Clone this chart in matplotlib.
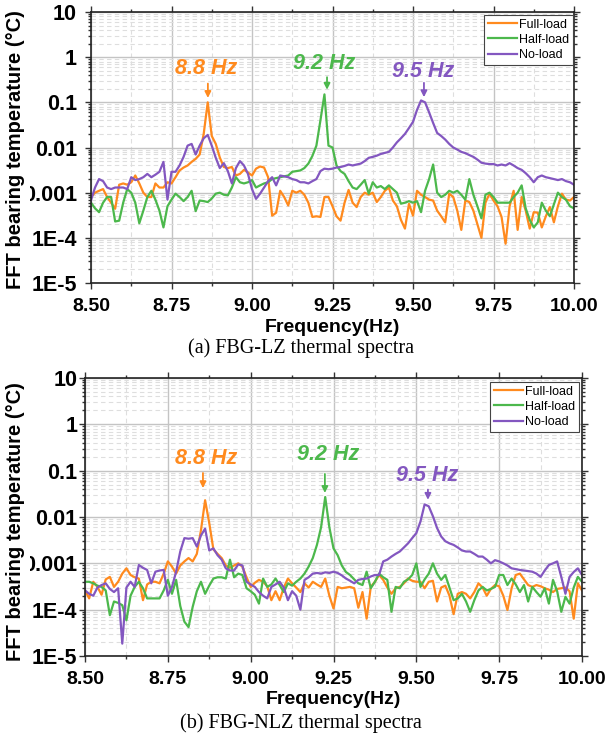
import numpy as np
import matplotlib
matplotlib.use("Agg")
import matplotlib.pyplot as plt
from matplotlib.ticker import FixedLocator, LogLocator, MultipleLocator, NullFormatter

plt.rcParams['font.family'] = ['Liberation Sans', 'DejaVu Sans']

# frequency grid of the spectra (Hz)
freq = np.linspace(8.5, 10.0, 121)

# (a) FBG-LZ
full_lz = [8e-4, 1.0e-3, 1.1e-3, 1.2e-3, 8e-4, 6e-4, 4.4e-4, 1.5e-3, 1.6e-3, 1.5e-3,
           1.7e-3, 2.4e-3, 1.6e-3, 1.0e-3, 8e-4, 8e-4, 1.6e-3, 1.3e-3, 1.3e-3, 1.7e-3,
           1.6e-3, 2.2e-3, 3.1e-3, 3.6e-3, 4.0e-3, 4.8e-3, 5.6e-3, 7.0e-3, 0.02, 0.10,
           0.018, 0.012, 6e-3, 3.7e-3, 3.5e-3, 3.7e-3, 2.4e-3, 2.6e-3, 3.2e-3, 2.8e-3,
           2.4e-3, 3.4e-3, 3.8e-3, 3.6e-3, 2.2e-3, 3.1e-4, 3.6e-4, 1.1e-3, 8e-4, 5.2e-4,
           1.1e-3, 1.0e-3, 1.1e-3, 9e-4, 6e-4, 2.9e-4, 3e-4, 2.9e-4, 8e-4, 8e-4,
           5e-4, 3e-4, 2.4e-4, 6e-4, 1.15e-3, 6e-4, 4.8e-4, 8e-4, 1.0e-3, 9e-4,
           1.0e-3, 6.2e-4, 8e-4, 1.1e-3, 1.3e-3, 6.7e-4, 5e-4, 2.5e-4, 1.6e-4, 5.7e-4,
           3.1e-4, 1.1e-3, 9e-4, 8e-4, 7e-4, 6.7e-4, 4e-4, 3e-4, 2.2e-4, 9.5e-4,
           8e-4, 4e-4, 1.5e-4, 6.7e-4, 6.2e-4, 4e-4, 2e-4, 1e-4, 6e-4, 9.5e-4,
           6.7e-4, 5e-4, 2.9e-4, 7.4e-5, 5e-4, 1.1e-3, 1.5e-4, 8e-4, 4e-4, 1.6e-4,
           3.7e-4, 3.6e-4, 1.7e-4, 3e-4, 4.8e-4, 2.2e-4, 5e-4, 9.5e-4, 7e-4, 6.7e-4, 8e-4]
half_lz = [6e-4, 4.5e-4, 3.7e-4, 6e-4, 8e-4, 8e-4, 2.3e-4, 2.4e-4, 6e-4, 1.2e-3,
           1.0e-3, 6e-4, 2.1e-4, 4e-4, 8e-4, 1.1e-3, 7e-4, 4e-4, 1.7e-4, 5e-4,
           7e-4, 9.5e-4, 8e-4, 6.5e-4, 8e-4, 1.1e-3, 3.9e-4, 6.7e-4, 6.5e-4, 6.2e-4,
           7.4e-4, 9.5e-4, 1.0e-3, 9e-4, 8.7e-4, 1.3e-3, 2.2e-3, 1.7e-3, 1.6e-3, 1.7e-3,
           1.9e-3, 1.3e-3, 1.45e-3, 1.6e-3, 1.7e-3, 2.0e-3, 2.1e-3, 2.2e-3, 2.3e-3, 2.4e-3,
           2.9e-3, 3.0e-3, 3.1e-3, 3.5e-3, 4.4e-3, 6.5e-3, 0.011, 0.04, 0.15, 0.011,
           0.010, 4e-3, 3e-3, 2.6e-3, 1.8e-3, 1.3e-3, 1.2e-3, 1.5e-3, 1.9e-3, 9.5e-4,
           1.7e-3, 1.3e-3, 1.4e-3, 1.2e-3, 1.45e-3, 1.2e-3, 1.0e-3, 5.7e-4, 6e-4, 6.5e-4,
           6e-4, 6.5e-4, 3.7e-4, 1.1e-3, 2.0e-3, 4.2e-3, 1.0e-3, 8e-4, 9e-4, 1.1e-3,
           1.0e-3, 1.1e-3, 9e-4, 7e-4, 2.0e-3, 9e-4, 5e-4, 2.7e-4, 9e-4, 1.0e-3,
           8e-4, 6e-4, 6e-4, 6e-4, 6e-4, 8e-4, 1.0e-3, 1.45e-3, 4.5e-4, 2.5e-4,
           1.7e-4, 2.2e-4, 6e-4, 4e-4, 3e-4, 5.5e-4, 1.0e-3, 8e-4, 7e-4, 5e-4, 4.5e-4]
no_lz = [6.8e-4, 1.3e-3, 2.0e-3, 1.8e-3, 1.3e-3, 1.2e-3, 1.3e-3, 1.3e-3, 1.3e-3, 1.2e-3,
         2.2e-3, 1.9e-3, 2.0e-3, 2.2e-3, 2.6e-3, 2.2e-3, 2.5e-3, 2.9e-3, 4.8e-3, 7e-4,
         2.9e-3, 2.9e-3, 4.0e-3, 6.2e-3, 0.011, 0.012, 7e-3, 0.011, 0.016, 0.019,
         0.011, 5.9e-3, 3.5e-3, 4.5e-3, 3e-3, 1.6e-3, 3.5e-3, 5e-3, 4e-3, 2.6e-3,
         1.2e-3, 7.3e-4, 9.5e-4, 1.3e-3, 1.8e-3, 2.2e-3, 1.45e-3, 2.4e-3, 2.3e-3, 2.2e-3,
         2.0e-3, 1.9e-3, 1.7e-3, 1.7e-3, 1.6e-3, 1.8e-3, 2.0e-3, 3.0e-3, 3.4e-3, 3.3e-3,
         3.4e-3, 3.6e-3, 3.7e-3, 3.9e-3, 4.2e-3, 4.0e-3, 4.2e-3, 4.4e-3, 5.0e-3, 5.9e-3,
         6.2e-3, 6.6e-3, 7.2e-3, 7.6e-3, 8e-3, 0.010, 0.013, 0.016, 0.020, 0.027,
         0.037, 0.068, 0.11, 0.10, 0.06, 0.035, 0.021, 0.018, 0.015, 0.012,
         0.010, 9e-3, 8e-3, 7.5e-3, 6.8e-3, 6.2e-3, 5.4e-3, 4.6e-3, 4.4e-3, 4.3e-3,
         4.3e-3, 4.0e-3, 4.2e-3, 4.0e-3, 4.5e-3, 4.0e-3, 3.5e-3, 3.2e-3, 2.7e-3, 2.2e-3,
         1.7e-3, 2.2e-3, 2.4e-3, 2.2e-3, 2.1e-3, 2.0e-3, 1.9e-3, 2.0e-3, 1.8e-3, 1.7e-3, 1.5e-3]

# (b) FBG-NLZ
full_nlz = [2.6e-4, 1.75e-4, 4e-4, 3.1e-4, 2.1e-4, 4.5e-4, 5.1e-4, 3.1e-4, 4e-4, 6e-4,
            7.8e-4, 5.6e-4, 5e-4, 4.7e-4, 1.6e-4, 3.5e-4, 4e-4, 4e-4, 3.7e-4, 6e-4,
            1.1e-3, 8.5e-4, 6e-4, 9e-4, 1.1e-3, 1.3e-3, 1.1e-3, 1.6e-3, 5.2e-3, 0.023,
            7.4e-3, 2e-3, 1.6e-3, 1.3e-3, 9e-4, 8e-4, 9e-4, 1.0e-3, 8.5e-4, 5e-4,
            3.1e-4, 3.8e-4, 4.4e-4, 4e-4, 3.2e-4, 1.6e-4, 2.5e-4, 1.6e-4, 3e-4, 4.7e-4,
            3.7e-4, 3e-4, 2.4e-4, 3.7e-4, 3e-4, 4e-4, 3.5e-4, 3.1e-4, 4.7e-4, 2e-4,
            1.06e-4, 3.1e-4, 2.9e-4, 3e-4, 3.1e-4, 2.9e-4, 1.1e-4, 2.4e-4, 6.4e-5, 3.1e-4,
            4e-4, 5.6e-4, 4.4e-4, 3e-4, 2.2e-4, 2.9e-4, 3.1e-4, 3.7e-4, 4.7e-4, 4.2e-4,
            4e-4, 4e-4, 2.9e-4, 4e-4, 4.2e-4, 1.5e-4, 3e-4, 3.3e-4, 2e-4, 8e-5,
            2.2e-4, 2.4e-4, 2.2e-4, 1.75e-4, 2.4e-4, 3.7e-4, 3e-4, 2e-4, 2.8e-4, 3.4e-4,
            3.2e-4, 2e-4, 9.8e-5, 2.9e-4, 5.6e-4, 6e-4, 4.5e-4, 3.4e-4, 3.1e-4, 3.4e-4,
            3.2e-4, 2.9e-4, 2.7e-4, 2.4e-4, 2.8e-4, 2.9e-4, 3e-4, 2.5e-4, 6.4e-5, 3.7e-4, 2.6e-4]
half_nlz = [4e-4, 4e-4, 3.7e-4, 3.3e-4, 3.1e-4, 2.6e-4, 7.6e-5, 1.5e-4, 1.4e-4, 1.25e-4,
            5.9e-5, 2e-4, 3.1e-4, 4e-4, 2.9e-4, 1.75e-4, 1.75e-4, 1.75e-4, 1.75e-4, 2.6e-4,
            4.4e-4, 2.2e-4, 4.4e-4, 1.2e-4, 5.5e-5, 4.2e-5, 1.15e-4, 2.5e-4, 4e-4, 2.2e-4,
            3.3e-4, 4.7e-4, 5e-4, 5e-4, 4.7e-4, 1.2e-3, 5e-4, 6e-4, 5.6e-4, 2.9e-4,
            2.5e-4, 2.1e-4, 1.35e-4, 4.7e-4, 3.1e-4, 3.5e-4, 4.7e-4, 3.4e-4, 2.4e-4, 3.7e-4,
            3.3e-4, 4e-4, 4.7e-4, 6e-4, 8.5e-4, 1.3e-3, 2.5e-3, 6e-3, 0.027, 6e-3,
            2.1e-3, 1.5e-3, 9e-4, 6.5e-4, 5.6e-4, 4.5e-4, 3.7e-4, 3.4e-4, 6.6e-4, 2.9e-4,
            4e-4, 6e-4, 5e-4, 4.4e-4, 9e-5, 3.1e-4, 2.9e-4, 4e-4, 4.5e-4, 5.6e-4,
            1.0e-3, 3.1e-4, 4.5e-4, 6e-4, 1.0e-3, 6e-4, 4.4e-4, 5.6e-4, 3e-4, 1.6e-4,
            1.75e-4, 2.2e-4, 1.5e-4, 9e-5, 1.6e-4, 2.6e-4, 3.1e-4, 2.6e-4, 2.8e-4, 3.1e-4,
            5.6e-4, 5.6e-4, 3.4e-4, 4.7e-4, 3.5e-4, 2.4e-4, 3.4e-4, 1.5e-4, 3.1e-4, 2.4e-4,
            1.9e-4, 2.9e-4, 1.35e-4, 4.4e-4, 2.5e-4, 9e-5, 1.9e-4, 1.35e-4, 3e-4, 5.1e-4, 4e-4]
no_nlz = [2.6e-4, 2.2e-4, 2e-4, 3e-4, 3.4e-4, 3.7e-4, 2.8e-4, 2.4e-4, 2.9e-4, 1.85e-5,
          3e-4, 4e-4, 3.1e-4, 9.2e-4, 8e-4, 7.2e-4, 3.7e-4, 6.6e-4, 7e-4, 7.2e-4,
          2e-4, 3.1e-4, 6.6e-4, 1.8e-3, 3.5e-3, 3.4e-3, 3.5e-3, 2.3e-3, 4e-3, 5.6e-3,
          1.9e-3, 2.1e-3, 1.5e-3, 1.2e-3, 7.8e-4, 7e-4, 7e-4, 9.5e-4, 9e-4, 4e-4,
          3.5e-4, 3.1e-4, 2.4e-4, 2e-4, 1.75e-4, 3.1e-4, 3.5e-4, 4e-4, 3e-4, 1.6e-4,
          2.5e-4, 2e-4, 1e-4, 4.4e-4, 5e-4, 6e-4, 6.2e-4, 6e-4, 6.4e-4, 6.2e-4,
          6.6e-4, 6.2e-4, 5.5e-4, 4.7e-4, 4.2e-4, 3.7e-4, 4.4e-4, 4.6e-4, 4.7e-4, 5.2e-4,
          5.6e-4, 5.6e-4, 1.1e-3, 1.2e-3, 1.4e-3, 1.6e-3, 1.8e-3, 2.2e-3, 2.7e-3, 3.5e-3,
          4.5e-3, 8e-3, 0.0187, 0.017, 0.0104, 5.8e-3, 3.8e-3, 3.0e-3, 2.7e-3, 2.5e-3,
          2.2e-3, 1.9e-3, 1.8e-3, 1.8e-3, 1.6e-3, 1.4e-3, 1.4e-3, 1.2e-3, 1.0e-3, 1.17e-3,
          1.1e-3, 1.0e-3, 9e-4, 7.8e-4, 7.5e-4, 7.2e-4, 7e-4, 6.8e-4, 6.6e-4, 6e-4,
          5.1e-4, 7e-4, 9.2e-4, 1.0e-3, 1.1e-3, 5.1e-4, 2.2e-4, 5.1e-4, 6.5e-4, 7.8e-4, 5.6e-4]

series_names = ['Full-load', 'Half-load', 'No-load']
peak_labels = ['8.8 Hz', '9.2 Hz', '9.5 Hz']
captions = ['(a) FBG-LZ thermal spectra', '(b) FBG-NLZ thermal spectra']

x_ticks = [8.50, 8.75, 9.00, 9.25, 9.50, 9.75, 10.00]
x_tick_labels = ['8.50', '8.75', '9.00', '9.25', '9.50', '9.75', '10.00']
y_ticks = [1e-5, 1e-4, 1e-3, 1e-2, 1e-1, 1, 10]
y_tick_labels = ['1E-5', '1E-4', '0.001', '0.01', '0.1', '1', '10']

colors = ['#ff8a1e', '#4cb84c', '#8357c0']

W, H = 609, 736
fig = plt.figure(figsize=(W / 100, H / 100), dpi=100)

# axes boxes in pixels: left, top, right, bottom
boxes = [(91, 12, 574, 283), (85, 378, 582, 656)]
panels = [(full_lz, half_lz, no_lz), (full_nlz, half_nlz, no_nlz)]

# label positions (freq, value) and arrow (freq, tail, head) for each peak
text_pos = [[(8.857, 0.55), (9.224, 0.74), (9.531, 0.47)],
            [(8.865, 0.179), (9.233, 0.218), (9.532, 0.08)]]
arrow_pos = [[(8.863, 0.26, 0.125), (9.233, 0.36, 0.19), (9.534, 0.27, 0.13)],
             [(8.856, 0.089, 0.042), (9.224, 0.085, 0.033), (9.535, 0.039, 0.0235)]]
legend_anchor = [(0.998, 0.989), (0.994, 0.986)]
ytick_pad = [6.0, 1.5]
ylabel_y = [150, 522]
xlabel_y = [327, 700]
caption_y = [348, 723]

for k, (l, t, r, b) in enumerate(boxes):
    ax = fig.add_axes([l / W, 1 - b / H, (r - l) / W, (b - t) / H])
    for data, name, c in zip(panels[k], series_names, colors):
        ax.plot(freq, data, color=c, lw=1.6, label=name)

    ax.set_yscale('log')
    ax.set_xlim(8.5, 10.0)
    ax.set_ylim(1e-5, 10)
    ax.set_axisbelow(True)

    ax.xaxis.set_major_locator(FixedLocator(x_ticks))
    ax.set_xticklabels(x_tick_labels, fontsize=14, fontweight='bold')
    ax.xaxis.set_minor_locator(MultipleLocator(0.125))
    ax.yaxis.set_major_locator(FixedLocator(y_ticks))
    ax.set_yticklabels(y_tick_labels, fontsize=15.5, fontweight='bold')
    ax.yaxis.set_minor_locator(LogLocator(base=10, subs=np.arange(2, 10), numticks=20))
    ax.yaxis.set_minor_formatter(NullFormatter())

    ax.tick_params(which='both', direction='out', top=True, right=True, width=1, color='#333333')
    ax.tick_params(which='major', length=4)
    ax.tick_params(which='minor', length=2.5)
    ax.tick_params(axis='x', which='major', pad=7)
    ax.tick_params(axis='y', which='major', pad=ytick_pad[k])

    ax.grid(which='major', color='#c4c4c4', lw=1.0, ls='-')
    ax.grid(which='minor', color='#dedede', lw=0.8, ls=(0, (4, 3)))
    for s in ax.spines.values():
        s.set_linewidth(1.2)
        s.set_color('#222222')

    for (tx, ty), (axx, a0, a1), lab, c in zip(text_pos[k], arrow_pos[k], peak_labels, colors):
        ax.text(tx, ty, lab, color=c, fontsize=15.5, fontweight='bold', fontstyle='italic',
                ha='center', va='center')
        ax.annotate('', xy=(axx, a1), xytext=(axx, a0),
                    arrowprops=dict(arrowstyle='-|>', color=c, lw=1.3, mutation_scale=9,
                                    shrinkA=0, shrinkB=0))

    leg = ax.legend(loc='upper right', bbox_to_anchor=legend_anchor[k], borderaxespad=0,
                    fontsize=9, frameon=True, fancybox=False, framealpha=1,
                    handlelength=2.3, handletextpad=0.2, labelspacing=0.25,
                    borderpad=0.3)
    leg.get_frame().set_edgecolor('#444444')
    leg.get_frame().set_linewidth(0.8)

    cx = (l + r) / 2
    fig.text(16 / W, 1 - ylabel_y[k] / H, 'FFT bearing temperature (°C)', rotation=90,
             ha='center', va='center', fontsize=14.5, fontweight='bold',
             bbox=dict(facecolor='white', edgecolor='none', pad=3))
    fig.text(cx / W, 1 - xlabel_y[k] / H, 'Frequency(Hz)', ha='center', va='center',
             fontsize=14, fontweight='bold')
    fig.text(301 / W, 1 - caption_y[k] / H, captions[k], ha='center', va='center',
             fontsize=14.5, family=['Liberation Serif', 'DejaVu Serif'])

fig.savefig('out.png', dpi=100)
